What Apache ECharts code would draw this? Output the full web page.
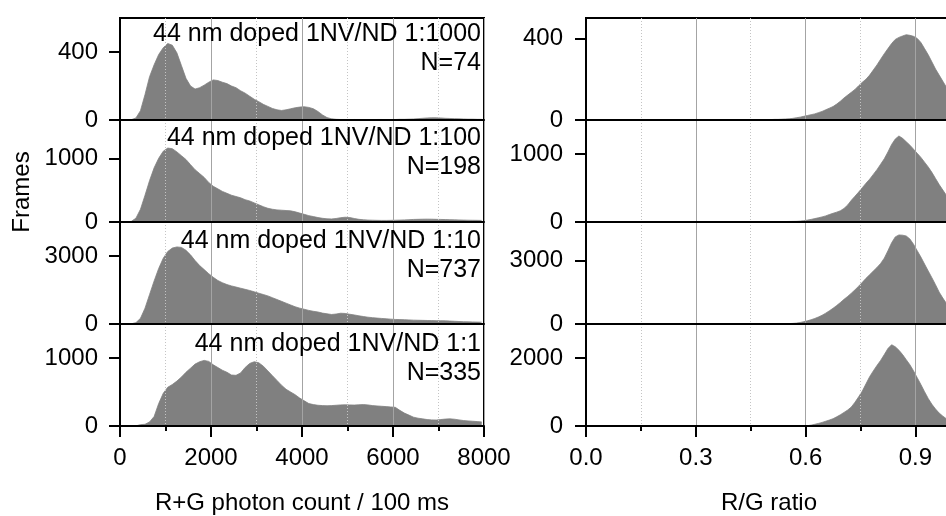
<!DOCTYPE html>
<html><head><meta charset="utf-8">
<script src="https://cdn.jsdelivr.net/npm/echarts@6/dist/echarts.min.js"></script>
<style>html,body{margin:0;padding:0;background:#fff}#c{width:946px;height:516px}</style>
</head><body><div id="c"></div>
<script>
// ---------- DATA ----------
// Photon-count histograms (R+G photon count / 100 ms), bins of 100 starting at 0
const countBinStart = 0;
const countBinWidth = 100;
const counts_1_1000 = [0,0,2,12,55,150,255,325,385,425,450,440,395,320,245,200,182,190,205,222,236,232,222,214,200,190,172,158,140,122,108,92,80,68,60,56,60,66,72,76,78,74,66,50,30,14,7,4,3,3,2,3,2,2,3,2,3,3,2,3,3,4,4,5,6,8,10,12,13,13,12,10,9,8,7,6,5,5,4,4];
const counts_1_100 = [0,0,10,60,200,420,650,850,1000,1110,1160,1150,1100,1040,980,900,820,760,700,620,560,520,480,450,420,400,380,350,330,300,270,240,215,200,190,185,180,175,160,140,120,100,85,70,58,50,48,55,68,75,70,55,42,35,30,28,26,25,25,26,28,30,33,36,40,42,44,45,44,42,40,38,36,34,32,30,28,27,26,25];
const counts_1_10 = [0,0,10,60,250,700,1300,1900,2450,2900,3200,3350,3400,3380,3250,3050,2800,2580,2400,2220,2060,1920,1820,1740,1680,1630,1580,1530,1480,1420,1360,1300,1240,1160,1080,1000,920,840,760,700,650,600,560,530,480,450,420,440,475,465,430,400,360,330,300,280,260,245,230,215,200,195,190,180,170,165,160,155,150,148,145,140,130,120,110,100,95,90,85,80];
const counts_1_1 = [0,0,0,2,20,25,60,140,330,480,570,610,660,720,790,850,910,945,965,950,900,860,820,790,750,745,780,860,920,945,930,880,810,740,670,600,540,500,460,410,370,330,315,305,300,298,300,305,310,312,310,308,312,315,310,300,295,290,285,280,275,230,190,160,130,115,105,95,90,88,95,102,105,100,90,80,75,70,65,60];

// R/G ratio histograms, bins of 0.01 starting at 0.30
const ratioBinStart = 0.30;
const ratioBinWidth = 0.01;
const ratio_1_1000 = [1,1,1,1,1,1,1,1,1,1,1,2,1,2,1,2,2,2,2,2,2,3,3,4,5,6,8,11,14,18,22,26,30,36,42,50,58,66,78,92,108,122,136,150,168,185,200,220,245,270,298,325,350,375,395,405,412,418,415,410,400,380,350,320,285,250,220,190,160,130];
const ratio_1_100 = [1,1,1,1,1,2,1,2,2,2,2,2,3,2,3,3,3,3,4,4,4,5,5,6,7,8,9,10,14,20,28,38,50,62,75,90,110,128,145,165,200,250,320,380,440,505,570,630,700,770,850,930,1030,1140,1220,1265,1230,1180,1130,1070,1010,950,880,810,730,640,550,470,390,320];
const ratio_1_10 = [0,0,0,0,0,0,0,0,0,0,0,0,0,0,0,0,1,1,1,2,2,3,4,6,10,18,28,42,70,110,150,200,260,330,410,510,620,740,870,1010,1160,1300,1450,1610,1780,1960,2150,2320,2490,2660,2850,3100,3450,3820,4100,4190,4180,4140,4000,3750,3450,3150,2820,2500,2180,1850,1500,1220,960,740];
const ratio_1_1 = [0,0,0,0,0,0,0,0,0,0,0,0,0,0,0,0,0,0,0,0,0,0,0,0,0,1,1,2,3,5,10,25,50,75,105,140,175,215,270,330,400,470,560,700,860,1030,1240,1450,1620,1780,1930,2100,2280,2390,2330,2230,2100,1950,1800,1620,1420,1220,1010,810,640,500,380,290,210,150];

const sampleNames = ['44 nm doped 1NV/ND 1:1000','44 nm doped 1NV/ND 1:100','44 nm doped 1NV/ND 1:10','44 nm doped 1NV/ND 1:1'];
const sampleN = ['N=74','N=198','N=737','N=335'];

// axis ranges / ticks
const countMax = [600,1600,4500,1500];
const countYTicks = [[0,400],[0,1000],[0,3000],[0,1000]];
const ratioMax = [500,1500,4800,3000];
const ratioYTicks = [[0,400],[0,1000],[0,3000],[0,2000]];
const countXMax = 8000;
const countXMajor = [0,2000,4000,6000,8000];
const countXMinor = [1000,3000,5000,7000];
const ratioXMax = 1.0;
const ratioXMajor = [0,0.3,0.6,0.9];
const ratioXMinor = [0.15,0.45,0.75];
const countTitle = 'R+G photon count / 100 ms';
const ratioTitle = 'R/G ratio';
const yTitle = 'Frames';

// ---------- LAYOUT ----------
const FONT = 'Liberation Sans';
const tops = [18,120,222,324];
const panelH = 102;
const sides = [
  {left:120, width:364, data:[counts_1_1000,counts_1_100,counts_1_10,counts_1_1], start:countBinStart, w:countBinWidth,
   xmax:countXMax, major:countXMajor, minor:countXMinor, ymax:countMax, yticks:countYTicks, title:countTitle, fmt:v=>String(v), ymargin:22},
  {left:586, width:366, data:[ratio_1_1000,ratio_1_100,ratio_1_10,ratio_1_1], start:ratioBinStart, w:ratioBinWidth,
   xmax:ratioXMax, major:ratioXMajor, minor:ratioXMinor, ymax:ratioMax, yticks:ratioYTicks, title:ratioTitle, fmt:v=>v.toFixed(1), ymargin:23}
];

const grid=[], xAxis=[], yAxis=[], series=[];
sides.forEach((sd, s) => {
  for (let p=0; p<4; p++) {
    const g = s*4+p;
    const bottom = p===3;
    grid.push({left:sd.left, top:tops[p], width:sd.width, height:panelH, show:true,
      borderColor:'#000', borderWidth:2, backgroundColor:'transparent', containLabel:false, outerBoundsMode:'none'});
    xAxis.push({type:'value', gridIndex:g, min:0, max:sd.xmax, position:'bottom', z:5,
      axisLine:{show:true, onZero:false, lineStyle:{color:'#000', width:2}},
      axisTick:{show:bottom, customValues:sd.major, length:11, lineStyle:{color:'#000', width:2}},
      axisLabel:{show:bottom, customValues:sd.major, margin:20, fontSize:24, color:'#000', fontFamily:FONT, formatter:sd.fmt},
      splitLine:{show:true, lineStyle:{color:'#a4a4a4', width:1}},
      name: bottom ? sd.title : '', nameLocation:'middle', nameGap:65,
      nameTextStyle:{fontSize:24, color:'#000', fontFamily:FONT}});
    xAxis.push({type:'value', gridIndex:g, min:0, max:sd.xmax, position:'bottom', z:5,
      axisLine:{show:false},
      axisTick:{show:bottom, customValues:sd.minor, length:5, lineStyle:{color:'#000', width:2}},
      axisLabel:{show:false, customValues:sd.minor},
      splitLine:{show:true, lineStyle:{color:'#c4c4c4', width:1, type:[1,2]}}});
    yAxis.push({type:'value', gridIndex:g, min:0, max:sd.ymax[p], z:5,
      axisLine:{show:true, onZero:false, lineStyle:{color:'#000', width:2}},
      axisTick:{show:true, customValues:sd.yticks[p], length:11, lineStyle:{color:'#000', width:2}},
      axisLabel:{customValues:sd.yticks[p], margin:sd.ymargin, fontSize:24, color:'#000', fontFamily:FONT, formatter:v=>String(v)},
      splitLine:{show:false}});
    const arr = sd.data[p];
    const pts = arr.map((v,i)=>[sd.start + (i+0.5)*sd.w, v]);
    series.push({type:'line', xAxisIndex:2*g, yAxisIndex:g, symbol:'none', silent:true,
      data:pts, lineStyle:{width:0.8, color:'#808080'}, areaStyle:{color:'#808080', opacity:1}, z:2});
  }
});

const annoY = [[22,51],[126,155],[229,258],[332,361]];
const AFS = 25;
const graphic = [];
for (let p=0;p<4;p++){
  graphic.push({type:'text', x:481, y:annoY[p][0], z:10,
    style:{text:sampleNames[p], font:AFS+'px "'+FONT+'"', fill:'#000', align:'right', verticalAlign:'top'}});
  graphic.push({type:'text', x:481, y:annoY[p][1], z:10,
    style:{text:sampleN[p], font:AFS+'px "'+FONT+'"', fill:'#000', align:'right', verticalAlign:'top'}});
}
graphic.push({type:'text', x:22, y:192, rotation:Math.PI/2, z:10,
  style:{text:yTitle, font:'24px "'+FONT+'"', fill:'#000', align:'center', verticalAlign:'middle'}});

const chart = echarts.init(document.getElementById('c'), null, {renderer:'canvas'});
chart.setOption({animation:false, backgroundColor:'#fff', grid, xAxis, yAxis, series, graphic});
</script></body></html>
